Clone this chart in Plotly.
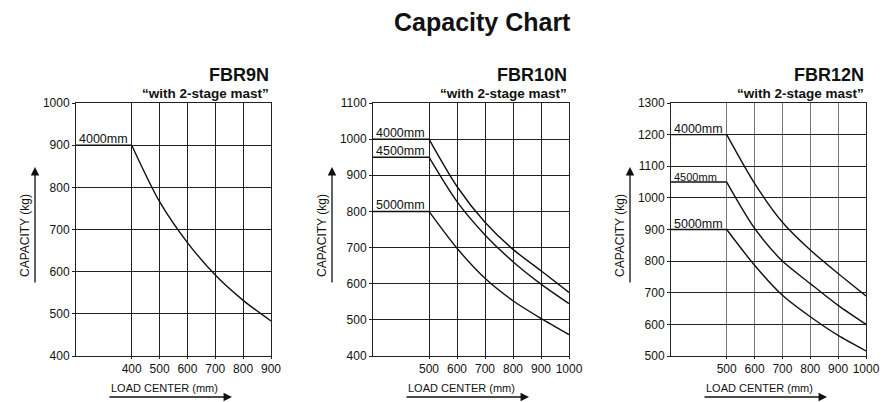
import plotly.graph_objects as go

# ---- data ----
fbr9_x = [200, 400, 500, 600, 700, 800, 900]
fbr9_4000 = [900, 900, 766, 669, 592, 532, 483]

fbr10_x = [300, 500, 600, 700, 800, 900, 1000]
fbr10_4000 = [1000, 1000, 869, 770, 695, 636, 576]
fbr10_4500 = [950, 950, 827, 735, 661, 599, 545]
fbr10_5000 = [800, 800, 698, 615, 553, 504, 459]

fbr12_x = [300, 500, 600, 700, 800, 900, 1000]
fbr12_4000 = [1200, 1200, 1046, 923, 835, 761, 690]
fbr12_4500 = [1050, 1050, 904, 800, 729, 660, 600]
fbr12_5000 = [900, 900, 787, 692, 624, 565, 516]

fbr9_ticks = [400, 500, 600, 700, 800, 900]
fbr1012_ticks = [500, 600, 700, 800, 900, 1000]

FONT = "Liberation Sans Narrow, Arial Narrow, Liberation Sans, Arial, sans-serif"
W, H = 882, 402

def px(x):
    return x / W

def py(y):
    return 1 - y / H

fig = go.Figure()

panels = [
    dict(name="FBR9N", xs=fbr9_x, series=[("4000mm", fbr9_4000, 12.5)],
         xr=[200, 900], yr=[400, 1000], xt=fbr9_ticks, left=76, right=271,
         ylab_x=25, arrow_x=35, gridx="#222", xa="x", ya="y"),
    dict(name="FBR10N", xs=fbr10_x,
         series=[("4000mm", fbr10_4000, 12.5), ("4500mm", fbr10_4500, 12.5), ("5000mm", fbr10_5000, 12.5)],
         xr=[300, 1000], yr=[400, 1100], xt=fbr1012_ticks, left=373, right=569,
         ylab_x=322, arrow_x=332, gridx="#222", xa="x2", ya="y2"),
    dict(name="FBR12N", xs=fbr12_x,
         series=[("4000mm", fbr12_4000, 12.5), ("4500mm", fbr12_4500, 11), ("5000mm", fbr12_5000, 12.5)],
         xr=[300, 1000], yr=[500, 1300], xt=fbr1012_ticks, left=671, right=866,
         ylab_x=620, arrow_x=630, gridx="#777", xa="x3", ya="y3"),
]

top_px, bot_px = 103, 356
annotations = []
layout_axes = {}

for i, p in enumerate(panels):
    sfx = "" if i == 0 else str(i + 1)
    for label, ys, fs in p["series"]:
        # flat segment
        fig.add_trace(go.Scatter(x=p["xs"][:2], y=ys[:2], mode="lines",
                                 line=dict(color="#111", width=1.4),
                                 xaxis=p["xa"], yaxis=p["ya"], showlegend=False, hoverinfo="skip"))
        # curve
        fig.add_trace(go.Scatter(x=p["xs"][1:], y=ys[1:], mode="lines",
                                 line=dict(color="#111", width=1.4, shape="spline", smoothing=0.8),
                                 xaxis=p["xa"], yaxis=p["ya"], showlegend=False, hoverinfo="skip"))
        annotations.append(dict(x=p["xr"][0], y=ys[0], xref=p["xa"], yref=p["ya"],
                                text=label, showarrow=False, xanchor="left", yanchor="bottom",
                                xshift=1, yshift=-3, font=dict(family=FONT, size=fs, color="#111")))
    layout_axes["xaxis" + sfx] = dict(
        domain=[px(p["left"]), px(p["right"])], range=p["xr"], tickvals=p["xt"],
        showgrid=True, gridcolor=p["gridx"], gridwidth=1, zeroline=False,
        showline=True, linecolor="#222", linewidth=1, mirror=True,
        ticks="outside", ticklen=2, tickcolor="#222", tickangle=0, automargin=False,
        tickfont=dict(family=FONT, size=12, color="#111"),
        anchor="y" + sfx, fixedrange=True)
    layout_axes["yaxis" + sfx] = dict(
        domain=[py(bot_px), py(top_px)], range=p["yr"], dtick=100,
        showgrid=True, gridcolor="#222", gridwidth=1, zeroline=False,
        showline=True, linecolor="#222", linewidth=1, mirror=True,
        ticks="outside", ticklen=3, tickcolor="#222", automargin=False,
        tickfont=dict(family=FONT, size=12, color="#111"),
        anchor="x" + sfx, fixedrange=True)
    # panel title and subtitle
    annotations.append(dict(x=px(p["right"]), y=py(75), xref="paper", yref="paper",
                            text="<b>" + p["name"] + "</b>", showarrow=False,
                            xanchor="right", yanchor="middle",
                            font=dict(family=FONT, size=18, color="#111")))
    annotations.append(dict(x=px(p["right"]), y=py(93), xref="paper", yref="paper",
                            text="<b>\u201cwith 2-stage mast\u201d</b>", showarrow=False,
                            xanchor="right", yanchor="middle",
                            font=dict(family=FONT, size=13.5, color="#111")))
    # y axis label + arrow
    annotations.append(dict(x=px(p["ylab_x"]), y=py(236), xref="paper", yref="paper",
                            text="CAPACITY (kg)", textangle=-90, showarrow=False,
                            xanchor="center", yanchor="middle",
                            font=dict(family=FONT, size=12, color="#111")))
    annotations.append(dict(x=px(p["arrow_x"]), y=py(167), xref="paper", yref="paper",
                            ax=0, ay=117, axref="pixel", ayref="pixel",
                            text="", showarrow=True, arrowhead=2, arrowsize=1.3,
                            arrowwidth=1.3, arrowcolor="#111"))
    # x axis label + arrow
    annotations.append(dict(x=px(p["left"] + 33), y=py(388), xref="paper", yref="paper",
                            text="LOAD CENTER (mm)", showarrow=False,
                            xanchor="left", yanchor="middle",
                            font=dict(family=FONT, size=11, color="#111")))
    annotations.append(dict(x=px(p["left"] + 156), y=py(397), xref="paper", yref="paper",
                            ax=-124, ay=0, axref="pixel", ayref="pixel",
                            text="", showarrow=True, arrowhead=2, arrowsize=1.3,
                            arrowwidth=1.3, arrowcolor="#111"))

annotations.append(dict(x=px(482), y=py(22), xref="paper", yref="paper",
                        text="<b>Capacity Chart</b>", showarrow=False,
                        xanchor="center", yanchor="middle",
                        font=dict(family=FONT, size=25, color="#111")))

fig.update_layout(width=W, height=H, margin=dict(l=0, r=0, t=0, b=0, autoexpand=False),
                  paper_bgcolor="white", plot_bgcolor="white",
                  annotations=annotations, showlegend=False, **layout_axes)

fig.write_html("out.html", config={"displayModeBar": False},
               post_script="document.body.style.margin='0';document.body.style.overflow='hidden';")
